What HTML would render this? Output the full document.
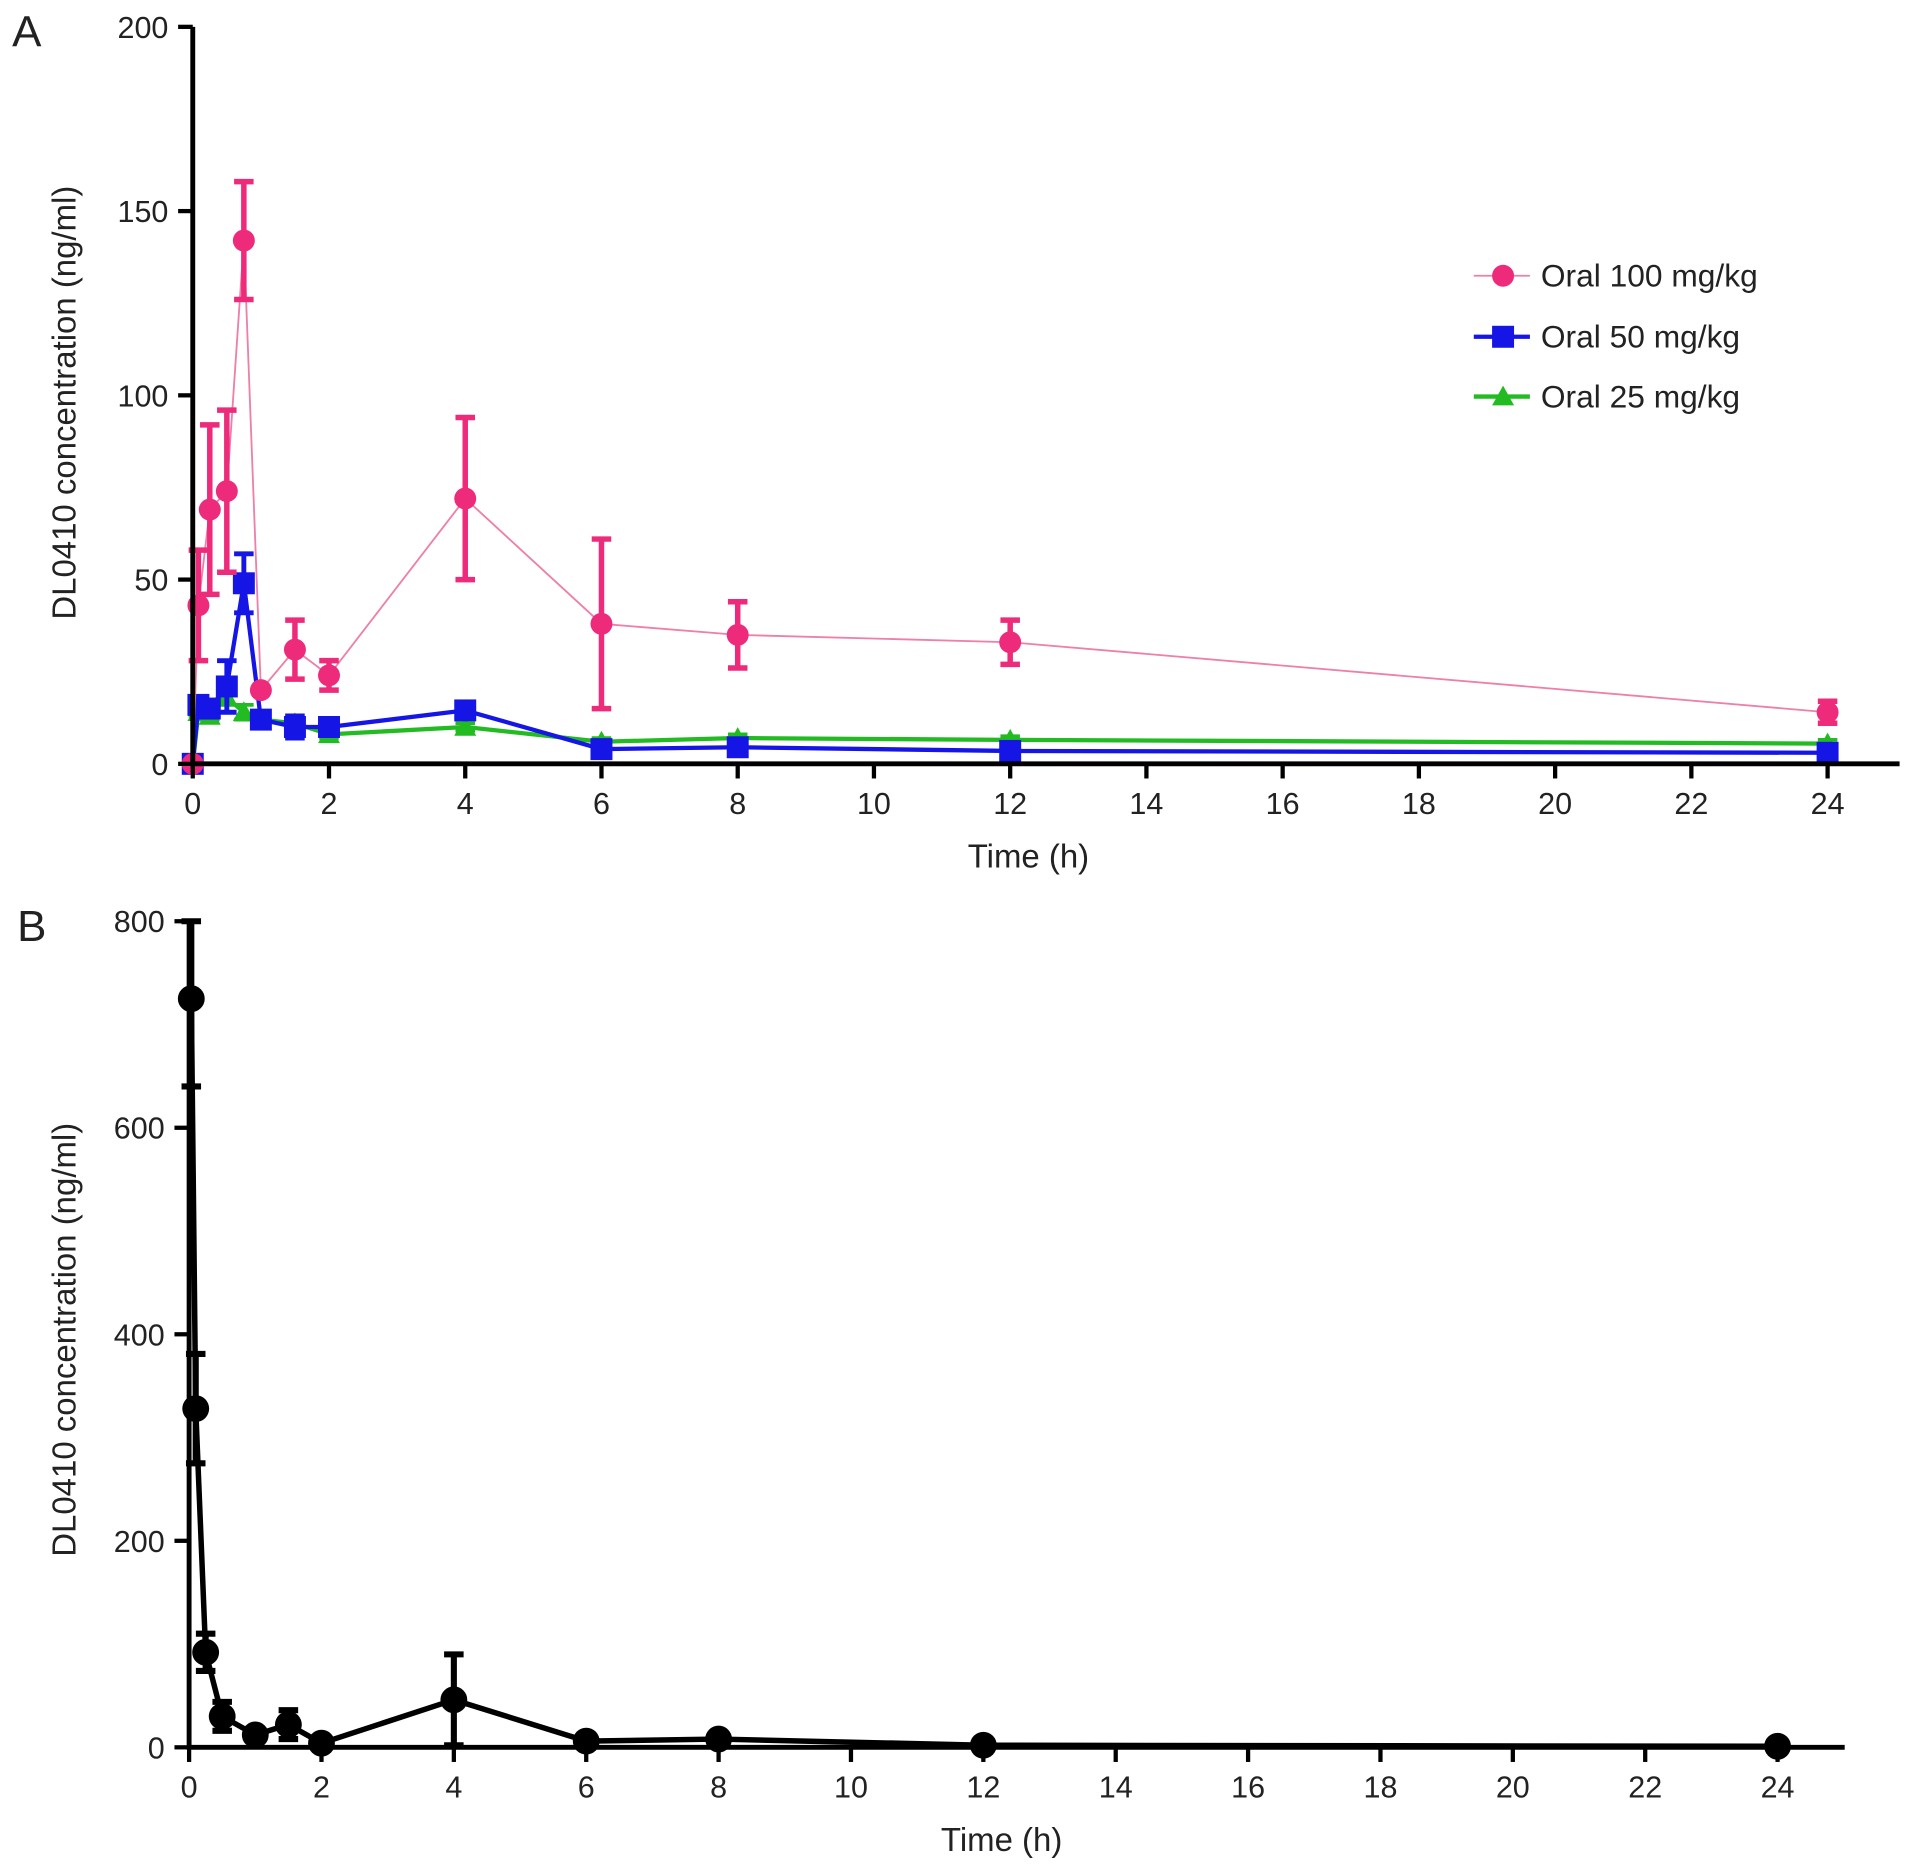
<!DOCTYPE html>
<html><head><meta charset="utf-8"><style>
html,body{margin:0;padding:0;background:#fff;}
svg{display:block;font-family:"Liberation Sans",Arial,sans-serif;}
</style></head><body>
<svg id="fig" width="1913" height="1873" viewBox="0 0 1568 1535" preserveAspectRatio="none" xmlns="http://www.w3.org/2000/svg"></svg>
<script>
// Panel A data
const timesA = [0, 0.083, 0.25, 0.5, 0.75, 1, 1.5, 2, 4, 6, 8, 12, 24];
const oral100 = [0, 43, 69, 74, 142, 20, 31, 24, 72, 38, 35, 33, 14];
const oral100Err = [0, 15, 23, 22, 16, 0, 8, 4, 22, 23, 9, 6, 3];
const oral50 = [0, 16, 15, 21, 49, 12, 10, 10, 14.5, 4, 4.5, 3.5, 3];
const oral50Err = [0, 2, 2, 7, 8, 1, 3, 1, 1, 1, 1, 1, 1];
const oral25 = [0, 14, 13, 18, 14, 12, 11, 8, 10, 6, 7, 6.5, 5.5];
const oral25Err = [0, 1, 1, 2, 2, 1, 1, 1, 1, 1, 1, 1, 1];
const yTicksA = [0, 50, 100, 150, 200];
const xTicks = [0, 2, 4, 6, 8, 10, 12, 14, 16, 18, 20, 22, 24];
// Panel B data
const timesB = [0.033, 0.1, 0.25, 0.5, 1, 1.5, 2, 4, 6, 8, 12, 24];
const ivValues = [725, 328, 92, 30, 12, 22, 4, 46, 6, 8, 2, 1];
const ivErr = [85, 53, 18, 14, 4, 14, 2, 44, 3, 3, 1, 1];
const yTicksB = [0, 200, 400, 600, 800];

const NS = "http://www.w3.org/2000/svg";
const svg = document.getElementById('fig');
function mk(tag, attrs, parent){
  const e = document.createElementNS(NS, tag);
  for (const k in attrs) e.setAttribute(k, attrs[k]);
  (parent || svg).appendChild(e);
  return e;
}
function txt(s, x, y, size, anchor, name, parent){
  const t = mk('text', {x:x, y:y, 'font-size':size, 'text-anchor':anchor || 'middle', fill:'#222'}, parent);
  t.textContent = s;
  
  
  return t;
}

function marker(g, kind, cx, cy, color, sz){
  let m;
  if (kind === 'circle') m = mk('circle', {cx:cx, cy:cy, r:sz, fill:color}, g);
  else if (kind === 'square') m = mk('rect', {x:cx-sz, y:cy-sz, width:2*sz, height:2*sz, fill:color}, g);
  else m = mk('polygon', {points:`${cx},${cy-sz} ${cx-sz},${cy+sz*0.8} ${cx+sz},${cy+sz*0.8}`, fill:color}, g);
  
  
}

function panel(cfg){
  const g = mk('g', {});
  
  
  const xs = t => cfg.x0 + (cfg.x24 - cfg.x0) * t / 24;
  const ys = v => cfg.y0 - (cfg.y0 - cfg.yTop) * v / cfg.yMax;
  cfg.series.forEach(s => {
    const sg = mk('g', {}, g);
    
    
    const pts = s.t.map((t,i) => xs(t) + ',' + ys(s.v[i])).join(' ');
    mk('polyline', {points:pts, fill:'none', stroke:s.lineColor, 'stroke-width':s.lw}, sg);
    s.t.forEach((t,i) => {
      const e = s.e[i];
      if (e > 0) {
        const x = xs(t), y1 = ys(Math.min(s.v[i] + e, cfg.yMax)), y2 = ys(Math.max(s.v[i] - e, 0));
        const eb = mk('path', {d:`M${x},${y1}V${y2}M${x-8},${y1}H${x+8}M${x-8},${y2}H${x+8}`, stroke:s.color, 'stroke-width':s.ew, fill:'none'}, sg);
        
        
      }
      marker(sg, s.kind, xs(t), ys(s.v[i]), s.color, s.ms);
    });
  });
  const ax = mk('path', {d:`M${cfg.x0},${cfg.yTop}V${cfg.y0+2}M${cfg.x0-2},${cfg.y0}H${cfg.xEnd}`, stroke:'#000', 'stroke-width':4, fill:'none'}, g);
  
  
  cfg.yTicks.forEach(v => {
    mk('line', {x1:cfg.x0-12, x2:cfg.x0, y1:ys(v), y2:ys(v), stroke:'#000', 'stroke-width':3.5}, g);
    txt(String(v), cfg.x0-20, ys(v)+9, 25, 'end', 'y-tick-label', g);
  });
  xTicks.forEach(v => {
    mk('line', {x1:xs(v), x2:xs(v), y1:cfg.y0, y2:cfg.y0+12, stroke:'#000', 'stroke-width':3.5}, g);
    txt(String(v), xs(v), cfg.y0+41, 25, 'middle', 'x-tick-label', g);
  });
  txt('Time (h)', (cfg.x0 + cfg.x24)/2 + 15, cfg.y0+85, 27, 'middle', 'x-axis-title', g);
  const yt = txt('DL0410 concentration (ng/ml)', 0, 0, 27, 'middle', 'y-axis-title', g);
  const cy = cfg.titleY;
  yt.setAttribute('transform', `translate(62,${cy}) rotate(-90)`);
  txt(cfg.label, cfg.labelX, cfg.yTop + 16, 36, 'start', 'panel-label', g);
  return g;
}

panel({name:'panel-a', x0:158, x24:1498, xEnd:1557, y0:626, yTop:22, yMax:200, yTicks:yTicksA, label:'A', labelX:10, titleY:330,
  series:[
    {name:'series-oral-25', t:timesA, v:oral25, e:oral25Err, color:'#22bb22', lineColor:'#22bb22', lw:3.5, ew:3, kind:'tri', ms:9},
    {name:'series-oral-50', t:timesA, v:oral50, e:oral50Err, color:'#1515e6', lineColor:'#1515e6', lw:3.5, ew:4, kind:'square', ms:9},
    {name:'series-oral-100', t:timesA, v:oral100, e:oral100Err, color:'#ee2a7b', lineColor:'#ee7fa8', lw:1.5, ew:4.5, kind:'circle', ms:9}
  ]});

panel({name:'panel-b', x0:155, x24:1457, xEnd:1512, y0:1432, yTop:755, yMax:800, yTicks:yTicksB, label:'B', labelX:14, titleY:1098,
  series:[
    {name:'series-iv', t:timesB, v:ivValues, e:ivErr, color:'#000', lineColor:'#000', lw:4.5, ew:5, kind:'circle', ms:11}
  ]});

const lg = mk('g', {});


const leg = [['Oral 100 mg/kg','#ee2a7b','#ee7fa8','circle',226],['Oral 50 mg/kg','#1515e6','#1515e6','square',276],['Oral 25 mg/kg','#22bb22','#22bb22','tri',325]];
leg.forEach(l => {
  const e = mk('g', {}, lg);
  
  
  mk('line', {x1:1208, x2:1254, y1:l[4], y2:l[4], stroke:l[2], 'stroke-width':l[3]==='circle'?1.5:3.5}, e);
  marker(e, l[3], 1232, l[4], l[1], 9);
  txt(l[0], 1263, l[4]+9, 26, 'start', 'legend-label', e);
});
</script>
</body></html>
